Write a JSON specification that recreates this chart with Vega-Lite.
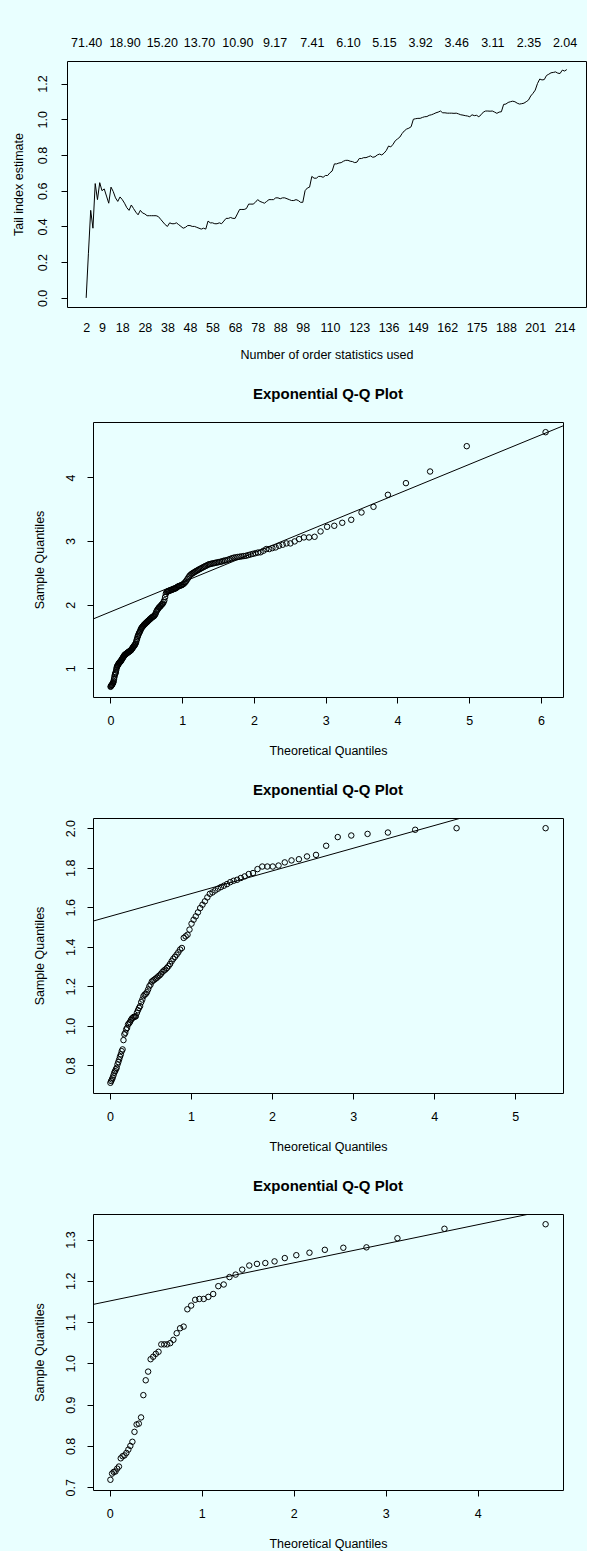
{
"$schema": "https://vega.github.io/schema/vega-lite/v6.json",
"background": "#e9ffff",
"padding": {"left": 0, "top": 35, "right": 0, "bottom": 0},
"align": "none",
"spacing": 24,
"config": {
  "view": {"stroke": "black", "strokeWidth": 1},
  "font": "Liberation Sans",
  "axis": {"grid": false, "domain": false, "tickColor": "black", "tickSize": 6, "tickWidth": 1, "labelColor": "black", "labelFontSize": 12.5, "labelFont": "Liberation Sans", "titleColor": "black", "titleFontSize": 12.5, "titleFontWeight": "normal", "titleFont": "Liberation Sans", "labelFlush": false, "labelOverlap": false, "labelBound": false},
  "title": {"font": "Liberation Sans", "fontSize": 15, "fontWeight": "bold", "color": "black", "offset": 20.5, "baseline": "bottom"}
},
"datasets": {
"hill": [
{"k":2,"v":0},{"k":3,"v":0.25},{"k":4,"v":0.49},{"k":5,"v":0.39},{"k":6,"v":0.64},{"k":7,"v":0.55},{"k":8,"v":0.645},{"k":9,"v":0.6},{"k":10,"v":0.61},{"k":11,"v":0.57},{"k":12,"v":0.53},{"k":13,"v":0.62},{"k":14,"v":0.595},{"k":15,"v":0.56},{"k":16,"v":0.54},{"k":17,"v":0.565},{"k":18,"v":0.55},{"k":19,"v":0.53},{"k":20,"v":0.505},{"k":21,"v":0.49},{"k":22,"v":0.52},{"k":23,"v":0.5},{"k":24,"v":0.48},{"k":25,"v":0.465},{"k":26,"v":0.49},{"k":27,"v":0.475},{"k":28,"v":0.47},{"k":29,"v":0.46},{"k":30,"v":0.46},{"k":31,"v":0.46},{"k":32,"v":0.46},{"k":33,"v":0.46},{"k":34,"v":0.455},{"k":35,"v":0.44},{"k":36,"v":0.425},{"k":37,"v":0.41},{"k":38,"v":0.4},{"k":39,"v":0.42},{"k":40,"v":0.415},{"k":41,"v":0.415},{"k":42,"v":0.42},{"k":43,"v":0.41},{"k":44,"v":0.4},{"k":45,"v":0.39},{"k":46,"v":0.395},{"k":47,"v":0.405},{"k":48,"v":0.405},{"k":49,"v":0.4},{"k":50,"v":0.4},{"k":51,"v":0.395},{"k":52,"v":0.39},{"k":53,"v":0.385},{"k":54,"v":0.39},{"k":55,"v":0.385},{"k":56,"v":0.43},{"k":57,"v":0.42},{"k":58,"v":0.42},{"k":59,"v":0.415},{"k":60,"v":0.415},{"k":61,"v":0.42},{"k":62,"v":0.415},{"k":63,"v":0.43},{"k":64,"v":0.445},{"k":65,"v":0.445},{"k":66,"v":0.45},{"k":67,"v":0.445},{"k":68,"v":0.445},{"k":69,"v":0.47},{"k":70,"v":0.495},{"k":71,"v":0.495},{"k":72,"v":0.495},{"k":73,"v":0.5},{"k":74,"v":0.525},{"k":75,"v":0.525},{"k":76,"v":0.525},{"k":77,"v":0.535},{"k":78,"v":0.55},{"k":79,"v":0.54},{"k":80,"v":0.535},{"k":81,"v":0.53},{"k":82,"v":0.54},{"k":83,"v":0.55},{"k":84,"v":0.55},{"k":85,"v":0.55},{"k":86,"v":0.56},{"k":87,"v":0.56},{"k":88,"v":0.555},{"k":89,"v":0.56},{"k":90,"v":0.56},{"k":91,"v":0.555},{"k":92,"v":0.55},{"k":93,"v":0.545},{"k":94,"v":0.545},{"k":95,"v":0.55},{"k":96,"v":0.545},{"k":97,"v":0.535},{"k":98,"v":0.535},{"k":99,"v":0.6},{"k":100,"v":0.615},{"k":101,"v":0.62},{"k":102,"v":0.68},{"k":103,"v":0.67},{"k":104,"v":0.67},{"k":105,"v":0.68},{"k":106,"v":0.68},{"k":107,"v":0.675},{"k":108,"v":0.685},{"k":109,"v":0.685},{"k":110,"v":0.7},{"k":111,"v":0.71},{"k":112,"v":0.75},{"k":113,"v":0.75},{"k":114,"v":0.755},{"k":115,"v":0.757},{"k":116,"v":0.765},{"k":117,"v":0.77},{"k":118,"v":0.77},{"k":119,"v":0.765},{"k":120,"v":0.763},{"k":121,"v":0.757},{"k":122,"v":0.76},{"k":123,"v":0.78},{"k":124,"v":0.78},{"k":125,"v":0.785},{"k":126,"v":0.785},{"k":127,"v":0.79},{"k":128,"v":0.795},{"k":129,"v":0.787},{"k":130,"v":0.79},{"k":131,"v":0.8},{"k":132,"v":0.805},{"k":133,"v":0.8},{"k":134,"v":0.81},{"k":135,"v":0.825},{"k":136,"v":0.85},{"k":137,"v":0.845},{"k":138,"v":0.86},{"k":139,"v":0.88},{"k":140,"v":0.89},{"k":141,"v":0.9},{"k":142,"v":0.92},{"k":143,"v":0.935},{"k":144,"v":0.945},{"k":145,"v":0.95},{"k":146,"v":0.958},{"k":147,"v":1.0},{"k":148,"v":1.003},{"k":149,"v":1.005},{"k":150,"v":1.005},{"k":151,"v":1.01},{"k":152,"v":1.014},{"k":153,"v":1.015},{"k":154,"v":1.022},{"k":155,"v":1.025},{"k":156,"v":1.03},{"k":157,"v":1.036},{"k":158,"v":1.04},{"k":159,"v":1.046},{"k":160,"v":1.036},{"k":161,"v":1.036},{"k":162,"v":1.034},{"k":163,"v":1.034},{"k":164,"v":1.034},{"k":165,"v":1.033},{"k":166,"v":1.034},{"k":167,"v":1.03},{"k":168,"v":1.025},{"k":169,"v":1.023},{"k":170,"v":1.02},{"k":171,"v":1.018},{"k":172,"v":1.014},{"k":173,"v":1.025},{"k":174,"v":1.02},{"k":175,"v":1.022},{"k":176,"v":1.014},{"k":177,"v":1.025},{"k":178,"v":1.04},{"k":179,"v":1.046},{"k":180,"v":1.046},{"k":181,"v":1.045},{"k":182,"v":1.046},{"k":183,"v":1.04},{"k":184,"v":1.033},{"k":185,"v":1.04},{"k":186,"v":1.042},{"k":187,"v":1.083},{"k":188,"v":1.085},{"k":189,"v":1.094},{"k":190,"v":1.098},{"k":191,"v":1.101},{"k":192,"v":1.098},{"k":193,"v":1.09},{"k":194,"v":1.085},{"k":195,"v":1.087},{"k":196,"v":1.09},{"k":197,"v":1.098},{"k":198,"v":1.107},{"k":199,"v":1.13},{"k":200,"v":1.145},{"k":201,"v":1.163},{"k":202,"v":1.2},{"k":203,"v":1.225},{"k":204,"v":1.22},{"k":205,"v":1.222},{"k":206,"v":1.245},{"k":207,"v":1.252},{"k":208,"v":1.26},{"k":209,"v":1.262},{"k":210,"v":1.265},{"k":211,"v":1.258},{"k":212,"v":1.256},{"k":213,"v":1.275},{"k":214,"v":1.27},{"k":215,"v":1.278}
],
"qq2": [
{"q":0.0023,"s":0.71},{"q":0.0071,"s":0.72},{"q":0.0119,"s":0.73},{"q":0.0167,"s":0.735},{"q":0.0214,"s":0.74},{"q":0.0262,"s":0.75},{"q":0.031,"s":0.76},{"q":0.0357,"s":0.77},{"q":0.0405,"s":0.78},{"q":0.0453,"s":0.8},{"q":0.0501,"s":0.83},{"q":0.0551,"s":0.86},{"q":0.0601,"s":0.89},{"q":0.0651,"s":0.91},{"q":0.0701,"s":0.925},{"q":0.0752,"s":0.94},{"q":0.0802,"s":0.97},{"q":0.0852,"s":1.0},{"q":0.0902,"s":1.02},{"q":0.0952,"s":1.035},{"q":0.1002,"s":1.045},{"q":0.1055,"s":1.055},{"q":0.1108,"s":1.065},{"q":0.116,"s":1.075},{"q":0.1213,"s":1.085},{"q":0.1266,"s":1.09},{"q":0.1319,"s":1.1},{"q":0.1372,"s":1.105},{"q":0.1424,"s":1.11},{"q":0.1477,"s":1.12},{"q":0.153,"s":1.13},{"q":0.1586,"s":1.14},{"q":0.1641,"s":1.15},{"q":0.1697,"s":1.16},{"q":0.1752,"s":1.17},{"q":0.1809,"s":1.18},{"q":0.1864,"s":1.19},{"q":0.192,"s":1.2},{"q":0.1976,"s":1.21},{"q":0.2031,"s":1.215},{"q":0.2087,"s":1.22},{"q":0.2146,"s":1.225},{"q":0.2205,"s":1.23},{"q":0.2264,"s":1.235},{"q":0.2323,"s":1.24},{"q":0.2382,"s":1.245},{"q":0.2441,"s":1.25},{"q":0.25,"s":1.255},{"q":0.2559,"s":1.26},{"q":0.2618,"s":1.265},{"q":0.2677,"s":1.27},{"q":0.274,"s":1.275},{"q":0.2803,"s":1.28},{"q":0.2865,"s":1.285},{"q":0.2928,"s":1.295},{"q":0.2991,"s":1.305},{"q":0.3054,"s":1.315},{"q":0.3116,"s":1.325},{"q":0.3179,"s":1.335},{"q":0.3242,"s":1.345},{"q":0.3304,"s":1.355},{"q":0.3371,"s":1.365},{"q":0.3438,"s":1.375},{"q":0.3505,"s":1.39},{"q":0.3572,"s":1.41},{"q":0.3639,"s":1.44},{"q":0.3706,"s":1.46},{"q":0.3773,"s":1.49},{"q":0.384,"s":1.51},{"q":0.3907,"s":1.53},{"q":0.3974,"s":1.55},{"q":0.4045,"s":1.565},{"q":0.4117,"s":1.58},{"q":0.4189,"s":1.6},{"q":0.426,"s":1.62},{"q":0.4332,"s":1.635},{"q":0.4404,"s":1.645},{"q":0.4476,"s":1.655},{"q":0.4547,"s":1.665},{"q":0.4619,"s":1.675},{"q":0.4691,"s":1.685},{"q":0.4768,"s":1.695},{"q":0.4845,"s":1.7},{"q":0.4922,"s":1.71},{"q":0.5,"s":1.72},{"q":0.5077,"s":1.725},{"q":0.5154,"s":1.735},{"q":0.5231,"s":1.745},{"q":0.5309,"s":1.75},{"q":0.5386,"s":1.76},{"q":0.5463,"s":1.77},{"q":0.5547,"s":1.775},{"q":0.5631,"s":1.785},{"q":0.5714,"s":1.795},{"q":0.5798,"s":1.8},{"q":0.5882,"s":1.81},{"q":0.5966,"s":1.815},{"q":0.6049,"s":1.82},{"q":0.6133,"s":1.83},{"q":0.6217,"s":1.845},{"q":0.6301,"s":1.86},{"q":0.6392,"s":1.89},{"q":0.6483,"s":1.91},{"q":0.6575,"s":1.925},{"q":0.6666,"s":1.94},{"q":0.6758,"s":1.955},{"q":0.6849,"s":1.965},{"q":0.694,"s":1.975},{"q":0.7032,"s":1.985},{"q":0.7123,"s":2.0},{"q":0.7215,"s":2.01},{"q":0.7315,"s":2.02},{"q":0.7416,"s":2.045},{"q":0.7516,"s":2.07},{"q":0.7617,"s":2.12},{"q":0.7717,"s":2.17},{"q":0.7818,"s":2.2},{"q":0.7918,"s":2.205},{"q":0.8019,"s":2.21},{"q":0.812,"s":2.215},{"q":0.822,"s":2.22},{"q":0.8332,"s":2.225},{"q":0.8444,"s":2.23},{"q":0.8556,"s":2.235},{"q":0.8668,"s":2.24},{"q":0.878,"s":2.245},{"q":0.8892,"s":2.25},{"q":0.9004,"s":2.255},{"q":0.9115,"s":2.26},{"q":0.9227,"s":2.27},{"q":0.9339,"s":2.28},{"q":0.9465,"s":2.29},{"q":0.9591,"s":2.295},{"q":0.9717,"s":2.3},{"q":0.9843,"s":2.305},{"q":0.9969,"s":2.31},{"q":1.0095,"s":2.32},{"q":1.0221,"s":2.33},{"q":1.0346,"s":2.345},{"q":1.0472,"s":2.36},{"q":1.0598,"s":2.38},{"q":1.0741,"s":2.405},{"q":1.0884,"s":2.43},{"q":1.1027,"s":2.455},{"q":1.117,"s":2.47},{"q":1.1313,"s":2.485},{"q":1.1456,"s":2.495},{"q":1.16,"s":2.505},{"q":1.1743,"s":2.515},{"q":1.1886,"s":2.525},{"q":1.204,"s":2.535},{"q":1.2196,"s":2.545},{"q":1.2355,"s":2.555},{"q":1.2516,"s":2.565},{"q":1.268,"s":2.575},{"q":1.2846,"s":2.585},{"q":1.3016,"s":2.595},{"q":1.3188,"s":2.605},{"q":1.3364,"s":2.615},{"q":1.3542,"s":2.625},{"q":1.3724,"s":2.635},{"q":1.3909,"s":2.64},{"q":1.4098,"s":2.645},{"q":1.429,"s":2.65},{"q":1.4486,"s":2.655},{"q":1.4686,"s":2.66},{"q":1.489,"s":2.665},{"q":1.5099,"s":2.67},{"q":1.5311,"s":2.675},{"q":1.5529,"s":2.68},{"q":1.5751,"s":2.69},{"q":1.5978,"s":2.695},{"q":1.6211,"s":2.7},{"q":1.6449,"s":2.71},{"q":1.6693,"s":2.72},{"q":1.6943,"s":2.73},{"q":1.7199,"s":2.74},{"q":1.7462,"s":2.745},{"q":1.7732,"s":2.75},{"q":1.801,"s":2.755},{"q":1.8296,"s":2.76},{"q":1.859,"s":2.765},{"q":1.8893,"s":2.77},{"q":1.9205,"s":2.78},{"q":1.9528,"s":2.79},{"q":1.9861,"s":2.8},{"q":2.0206,"s":2.81},{"q":2.0564,"s":2.82},{"q":2.0934,"s":2.825},{"q":2.1319,"s":2.848},{"q":2.1719,"s":2.875},{"q":2.2136,"s":2.875},{"q":2.257,"s":2.89},{"q":2.3026,"s":2.901},{"q":2.3502,"s":2.927},{"q":2.4002,"s":2.943},{"q":2.4529,"s":2.964},{"q":2.5084,"s":2.964},{"q":2.5673,"s":2.995},{"q":2.6298,"s":3.032},{"q":2.6965,"s":3.058},{"q":2.7679,"s":3.058},{"q":2.8449,"s":3.068},{"q":2.9283,"s":3.152},{"q":3.0193,"s":3.225},{"q":3.1194,"s":3.241},{"q":3.2306,"s":3.288},{"q":3.3557,"s":3.335},{"q":3.4988,"s":3.45},{"q":3.6659,"s":3.539},{"q":3.8666,"s":3.728},{"q":4.1179,"s":3.911},{"q":4.4544,"s":4.094},{"q":4.9652,"s":4.492},{"q":6.0638,"s":4.712}
],
"qq3": [
{"q":0.0046,"s":0.712},{"q":0.014,"s":0.721},{"q":0.0234,"s":0.729},{"q":0.033,"s":0.738},{"q":0.0426,"s":0.75},{"q":0.0523,"s":0.763},{"q":0.0621,"s":0.771},{"q":0.072,"s":0.78},{"q":0.082,"s":0.788},{"q":0.0921,"s":0.805},{"q":0.1023,"s":0.817},{"q":0.1126,"s":0.83},{"q":0.123,"s":0.844},{"q":0.1335,"s":0.856},{"q":0.1442,"s":0.872},{"q":0.1549,"s":0.881},{"q":0.1658,"s":0.928},{"q":0.1768,"s":0.957},{"q":0.1879,"s":0.965},{"q":0.1991,"s":0.982},{"q":0.2105,"s":0.99},{"q":0.222,"s":1.007},{"q":0.2336,"s":1.012},{"q":0.2454,"s":1.019},{"q":0.2573,"s":1.029},{"q":0.2693,"s":1.037},{"q":0.2815,"s":1.041},{"q":0.2939,"s":1.046},{"q":0.3064,"s":1.046},{"q":0.319,"s":1.049},{"q":0.3319,"s":1.066},{"q":0.3448,"s":1.079},{"q":0.358,"s":1.091},{"q":0.3713,"s":1.1},{"q":0.3848,"s":1.12},{"q":0.3985,"s":1.133},{"q":0.4124,"s":1.15},{"q":0.4265,"s":1.158},{"q":0.4408,"s":1.162},{"q":0.4553,"s":1.17},{"q":0.47,"s":1.184},{"q":0.4849,"s":1.2},{"q":0.5001,"s":1.209},{"q":0.5155,"s":1.224},{"q":0.5311,"s":1.229},{"q":0.547,"s":1.234},{"q":0.5631,"s":1.239},{"q":0.5795,"s":1.244},{"q":0.5962,"s":1.251},{"q":0.6131,"s":1.256},{"q":0.6303,"s":1.264},{"q":0.6479,"s":1.273},{"q":0.6657,"s":1.28},{"q":0.6839,"s":1.285},{"q":0.7024,"s":1.293},{"q":0.7213,"s":1.302},{"q":0.7405,"s":1.313},{"q":0.7602,"s":1.327},{"q":0.7802,"s":1.339},{"q":0.8006,"s":1.349},{"q":0.8214,"s":1.36},{"q":0.8427,"s":1.372},{"q":0.8644,"s":1.386},{"q":0.8866,"s":1.394},{"q":0.9094,"s":1.445},{"q":0.9326,"s":1.453},{"q":0.9564,"s":1.461},{"q":0.9808,"s":1.487},{"q":1.0058,"s":1.517},{"q":1.0315,"s":1.537},{"q":1.0578,"s":1.554},{"q":1.0848,"s":1.574},{"q":1.1126,"s":1.596},{"q":1.1412,"s":1.613},{"q":1.1706,"s":1.63},{"q":1.2009,"s":1.65},{"q":1.2321,"s":1.668},{"q":1.2644,"s":1.675},{"q":1.2977,"s":1.685},{"q":1.3322,"s":1.694},{"q":1.3679,"s":1.702},{"q":1.405,"s":1.709},{"q":1.4435,"s":1.717},{"q":1.4835,"s":1.727},{"q":1.5251,"s":1.734},{"q":1.5686,"s":1.739},{"q":1.6141,"s":1.748},{"q":1.6617,"s":1.756},{"q":1.7117,"s":1.768},{"q":1.7644,"s":1.773},{"q":1.8199,"s":1.793},{"q":1.8788,"s":1.806},{"q":1.9413,"s":1.806},{"q":2.008,"s":1.806},{"q":2.0794,"s":1.811},{"q":2.1564,"s":1.827},{"q":2.2398,"s":1.837},{"q":2.3308,"s":1.843},{"q":2.4308,"s":1.857},{"q":2.5421,"s":1.865},{"q":2.6672,"s":1.911},{"q":2.8102,"s":1.955},{"q":2.9772,"s":1.963},{"q":3.1781,"s":1.971},{"q":3.4294,"s":1.978},{"q":3.7658,"s":1.992},{"q":4.2767,"s":2.0},{"q":5.3753,"s":2.0}
],
"qq4": [
{"q":0.0088,"s":0.718},{"q":0.0267,"s":0.733},{"q":0.0449,"s":0.737},{"q":0.0634,"s":0.738},{"q":0.0822,"s":0.745},{"q":0.1015,"s":0.75},{"q":0.1211,"s":0.77},{"q":0.1411,"s":0.775},{"q":0.1615,"s":0.777},{"q":0.1823,"s":0.783},{"q":0.2036,"s":0.791},{"q":0.2253,"s":0.8},{"q":0.2476,"s":0.81},{"q":0.2703,"s":0.834},{"q":0.2935,"s":0.852},{"q":0.3174,"s":0.854},{"q":0.3417,"s":0.869},{"q":0.3667,"s":0.923},{"q":0.3924,"s":0.959},{"q":0.4187,"s":0.98},{"q":0.4457,"s":1.01},{"q":0.4735,"s":1.016},{"q":0.5021,"s":1.023},{"q":0.5315,"s":1.028},{"q":0.5618,"s":1.046},{"q":0.5931,"s":1.046},{"q":0.6253,"s":1.046},{"q":0.6587,"s":1.049},{"q":0.6931,"s":1.057},{"q":0.7288,"s":1.073},{"q":0.7658,"s":1.085},{"q":0.8044,"s":1.089},{"q":0.8447,"s":1.131},{"q":0.886,"s":1.14},{"q":0.9295,"s":1.154},{"q":0.975,"s":1.156},{"q":1.0226,"s":1.156},{"q":1.0727,"s":1.161},{"q":1.1253,"s":1.168},{"q":1.1809,"s":1.187},{"q":1.2397,"s":1.191},{"q":1.3022,"s":1.209},{"q":1.3689,"s":1.215},{"q":1.4404,"s":1.227},{"q":1.5173,"s":1.237},{"q":1.6009,"s":1.241},{"q":1.6917,"s":1.243},{"q":1.7918,"s":1.247},{"q":1.9031,"s":1.255},{"q":2.0282,"s":1.262},{"q":2.1712,"s":1.268},{"q":2.3382,"s":1.275},{"q":2.539,"s":1.28},{"q":2.7903,"s":1.281},{"q":3.1268,"s":1.303},{"q":3.6376,"s":1.326},{"q":4.7362,"s":1.337}
],
"l2": [{"q":-0.2426,"s":1.7756},{"q":6.3064,"s":4.811}],
"l3": [{"q":-0.2102,"s":1.5299},{"q":5.5901,"s":2.1957}],
"l4": [{"q":-0.1803,"s":1.1427},{"q":4.9253,"s":1.3786}]
},
"vconcat": [
{
  "spacing": 0,
  "hconcat": [
    {"width": 12, "height": 5, "view": {"stroke": null}, "data": {"values": [{}]}, "mark": {"type": "point", "opacity": 0}},
    {
      "width": 519, "height": 246,
      "layer": [
        {"data": {"name": "hill"}, "mark": {"type": "line", "color": "black", "strokeWidth": 1},
         "encoding": {
           "x": {"field": "k", "type": "quantitative", "scale": {"domain": [-6.5, 223.5], "nice": false, "zero": false},
                 "axis": {"orient": "bottom", "values": [2,9,18,28,38,48,58,68,78,88,98,110,123,136,149,162,175,188,201,214], "format": "d", "ticks": false, "tickSize": 0, "labelPadding": 14.6, "title": "Number of order statistics used", "titlePadding": 14.5}},
           "y": {"field": "v", "type": "quantitative", "scale": {"domain": [-0.051, 1.326], "nice": false, "zero": false},
                 "axis": {"values": [0,0.2,0.4,0.6,0.8,1.0,1.2], "format": ".1f", "labelAngle": -90, "labelPadding": 11.9, "title": "Tail index estimate", "titlePadding": 10.5}}
         }},
        {"data": {"name": "hill"}, "mark": {"type": "point", "opacity": 0},
         "encoding": {
           "x": {"field": "k", "type": "quantitative", "scale": {"domain": [-6.5, 223.5], "nice": false, "zero": false},
                 "axis": {"orient": "top", "values": [2,19,35.5,52,69,85.5,102,118,134,150,166,182,198,214], "labelExpr": "['71.40','18.90','15.20','13.70','10.90','9.17','7.41','6.10','5.15','3.92','3.46','3.11','2.35','2.04'][indexof([2,19,35.5,52,69,85.5,102,118,134,150,166,182,198,214], datum.value)]", "ticks": false, "tickSize": 0, "labelPadding": 11.9, "title": null}},
           "y": {"field": "v", "type": "quantitative", "scale": {"domain": [-0.051, 1.326], "nice": false, "zero": false}}
         }}
      ],
      "resolve": {"axis": {"x": "independent"}}
    }
  ]
},
{
  "spacing": 0,
  "hconcat": [
    {"width": 33, "height": 5, "view": {"stroke": null}, "data": {"values": [{}]}, "mark": {"type": "point", "opacity": 0}},
    {
      "title": {"text": "Exponential Q-Q Plot"},
      "width": 470, "height": 275,
      "layer": [
        {"data": {"name": "qq2"}, "mark": {"type": "point", "shape": "circle", "filled": false, "color": "black", "size": 30, "strokeWidth": 1, "opacity": 1},
         "encoding": {
           "x": {"field": "q", "type": "quantitative", "scale": {"domain": [-0.2426, 6.3064], "nice": false, "zero": false},
                 "axis": {"values": [0,1,2,3,4,5,6], "format": "d", "labelPadding": 11.6, "title": "Theoretical Quantiles", "titlePadding": 17.5}},
           "y": {"field": "s", "type": "quantitative", "scale": {"domain": [0.55, 4.872], "nice": false, "zero": false},
                 "axis": {"values": [1,2,3,4], "format": "d", "labelAngle": -90, "labelPadding": 9.6, "title": "Sample Quantiles", "titlePadding": 17.8}}
         }},
        {"data": {"name": "l2"}, "mark": {"type": "line", "color": "black", "strokeWidth": 1, "clip": true},
         "encoding": {
           "x": {"field": "q", "type": "quantitative", "scale": {"domain": [-0.2426, 6.3064], "nice": false, "zero": false}},
           "y": {"field": "s", "type": "quantitative", "scale": {"domain": [0.55, 4.872], "nice": false, "zero": false}}
         }}
      ]
    }
  ]
},
{
  "spacing": 0,
  "hconcat": [
    {"width": 33, "height": 5, "view": {"stroke": null}, "data": {"values": [{}]}, "mark": {"type": "point", "opacity": 0}},
    {
      "title": {"text": "Exponential Q-Q Plot"},
      "width": 470, "height": 275,
      "layer": [
        {"data": {"name": "qq3"}, "mark": {"type": "point", "shape": "circle", "filled": false, "color": "black", "size": 30, "strokeWidth": 1, "opacity": 1},
         "encoding": {
           "x": {"field": "q", "type": "quantitative", "scale": {"domain": [-0.2102, 5.5901], "nice": false, "zero": false},
                 "axis": {"values": [0,1,2,3,4,5], "format": "d", "labelPadding": 11.6, "title": "Theoretical Quantiles", "titlePadding": 17.5}},
           "y": {"field": "s", "type": "quantitative", "scale": {"domain": [0.6605, 2.0515], "nice": false, "zero": false},
                 "axis": {"values": [0.8,1.0,1.2,1.4,1.6,1.8,2.0], "format": ".1f", "labelAngle": -90, "labelPadding": 9.6, "title": "Sample Quantiles", "titlePadding": 17.8}}
         }},
        {"data": {"name": "l3"}, "mark": {"type": "line", "color": "black", "strokeWidth": 1, "clip": true},
         "encoding": {
           "x": {"field": "q", "type": "quantitative", "scale": {"domain": [-0.2102, 5.5901], "nice": false, "zero": false}},
           "y": {"field": "s", "type": "quantitative", "scale": {"domain": [0.6605, 2.0515], "nice": false, "zero": false}}
         }}
      ]
    }
  ]
},
{
  "spacing": 0,
  "hconcat": [
    {"width": 33, "height": 5, "view": {"stroke": null}, "data": {"values": [{}]}, "mark": {"type": "point", "opacity": 0}},
    {
      "title": {"text": "Exponential Q-Q Plot"},
      "width": 470, "height": 276,
      "layer": [
        {"data": {"name": "qq4"}, "mark": {"type": "point", "shape": "circle", "filled": false, "color": "black", "size": 30, "strokeWidth": 1, "opacity": 1},
         "encoding": {
           "x": {"field": "q", "type": "quantitative", "scale": {"domain": [-0.1803, 4.9253], "nice": false, "zero": false},
                 "axis": {"values": [0,1,2,3,4], "format": "d", "labelPadding": 11.6, "title": "Theoretical Quantiles", "titlePadding": 17.5}},
           "y": {"field": "s", "type": "quantitative", "scale": {"domain": [0.6932, 1.3618], "nice": false, "zero": false},
                 "axis": {"values": [0.7,0.8,0.9,1.0,1.1,1.2,1.3], "format": ".1f", "labelAngle": -90, "labelPadding": 9.6, "title": "Sample Quantiles", "titlePadding": 17.8}}
         }},
        {"data": {"name": "l4"}, "mark": {"type": "line", "color": "black", "strokeWidth": 1, "clip": true},
         "encoding": {
           "x": {"field": "q", "type": "quantitative", "scale": {"domain": [-0.1803, 4.9253], "nice": false, "zero": false}},
           "y": {"field": "s", "type": "quantitative", "scale": {"domain": [0.6932, 1.3618], "nice": false, "zero": false}}
         }}
      ]
    }
  ]
}
]
}
